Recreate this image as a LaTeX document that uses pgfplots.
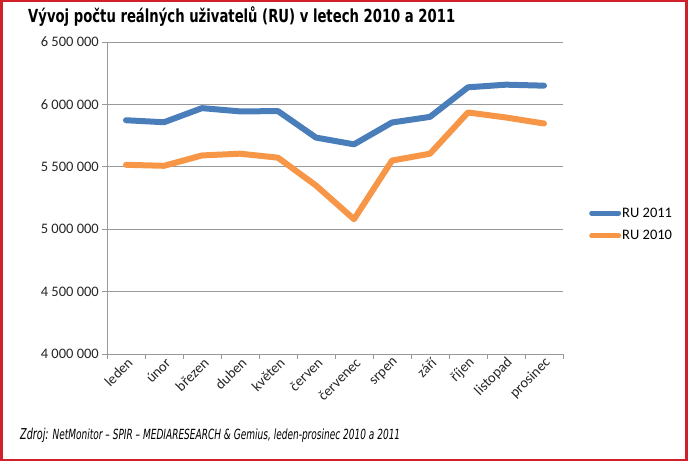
\documentclass[border=0pt]{standalone}
\usepackage{pgfplots}
\pgfplotsset{compat=1.18}
\usepackage{fontspec}
\setmainfont{Carlito}
\newfontfamily\titlefont{DejaVu Sans}
\definecolor{ru11}{HTML}{4A7EBB}
\definecolor{ru10}{HTML}{F79646}
\definecolor{frame}{HTML}{D0202A}
\begin{document}
\begin{tikzpicture}[x=1pt,y=1pt]
\useasboundingbox (0,0) rectangle (688,462);
\begin{axis}[
  at={(107pt,108pt)}, anchor=south west,
  scale only axis, width=456pt, height=312pt,
  xmin=-0.5, xmax=11.5, ymin=4000000, ymax=6500000,
  axis x line*=bottom, axis y line*=left,
  axis line style={draw=black!40},
  tick align=outside,
  major tick length=5pt, minor tick length=5pt,
  tick style={draw=black!40, line width=0.6pt},
  major x tick style={draw=none},
  xtick={0,...,11},
  minor xtick={-0.5,0.5,...,11.5},
  xticklabels={leden,únor,březen,duben,květen,červen,červenec,srpen,září,říjen,listopad,prosinec},
  xticklabel style={rotate=45, anchor=east, inner sep=2pt, yshift=-4pt, xshift=4pt},
  ytick={4000000,4500000,...,6500000},
  scaled y ticks=false,
  /pgf/number format/fixed,
  /pgf/number format/1000 sep={\hspace{3.2pt}},
  /pgf/number format/assume math mode=true,
  yticklabel style={inner sep=2pt, xshift=-1pt},
  ymajorgrids,
  major grid style={draw=black!40, line width=0.6pt},
  tick label style={font=\fontsize{14.5}{16}\selectfont, text=black!85},
  legend style={at={(1,0.415)}, anchor=west, xshift=26pt, draw=none, fill=none,
    font=\fontsize{14.5}{16}\selectfont, row sep=10pt, inner sep=0pt,
    nodes={inner sep=1pt}},
  legend cell align=left,
  legend image code/.code={\draw[#1, line width=5pt, line cap=round] (2pt,0pt) -- (29pt,0pt);},
]
\addplot[color=ru11, line width=6pt, line join=round, line cap=round] coordinates {
(0,5873000) (1,5857000) (2,5970000) (3,5944000) (4,5946000) (5,5734000)
(6,5680000) (7,5855000) (8,5900000) (9,6137000) (10,6158000) (11,6150000)};
\addlegendentry{RU 2011}
\addplot[color=ru10, line width=6pt, line join=round, line cap=round] coordinates {
(0,5516000) (1,5508000) (2,5591000) (3,5605000) (4,5573000) (5,5350000)
(6,5080000) (7,5550000) (8,5605000) (9,5935000) (10,5895000) (11,5847000)};
\addlegendentry{RU 2010}
\end{axis}
\node[anchor=west, inner sep=0pt] at (28,445) {\resizebox{427pt}{\height}{\titlefont\bfseries\fontsize{18}{20}\selectfont Vývoj počtu reálných uživatelů (RU) v letech 2010 a 2011}};
\node[anchor=west, inner sep=0pt] at (20,27) {\resizebox{380pt}{\height}{\titlefont\itshape\fontsize{15}{16}\selectfont Zdroj:\fontsize{14}{16}\selectfont{} NetMonitor – SPIR – MEDIARESEARCH \& Gemius, leden-prosinec 2010 a 2011}};
\draw[frame, line width=2.5pt] (1.25,1.75) rectangle (686.25,460.75);
\end{tikzpicture}
\end{document}
